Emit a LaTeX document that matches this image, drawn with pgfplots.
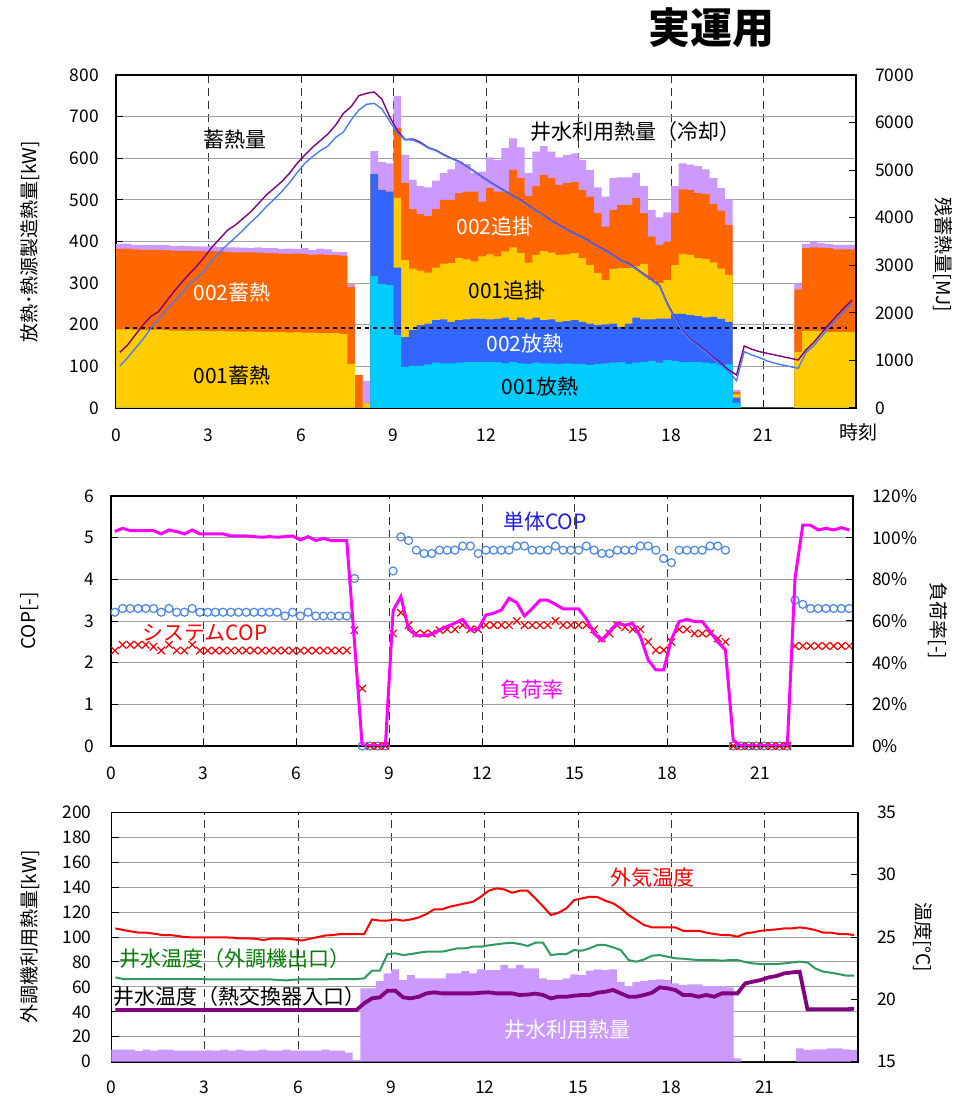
\documentclass[border=0pt]{standalone}
\usepackage{fontspec}
\setmainfont{Noto Sans CJK JP}
\usepackage{pgfplots}
\usepackage{pgfplotstable}
\pgfplotsset{compat=1.18}
\definecolor{cya}{HTML}{00CCFF}
\definecolor{blu}{HTML}{3366FF}
\definecolor{yel}{HTML}{FFCC00}
\definecolor{ora}{HTML}{FF6600}
\definecolor{lav}{HTML}{CC99FF}
\definecolor{pur}{HTML}{800080}
\definecolor{bline}{HTML}{4C7CF4}
\definecolor{mag}{HTML}{FF00FF}
\definecolor{circ}{HTML}{4A86E8}
\definecolor{grn}{HTML}{2E9960}
\definecolor{txtgrn}{HTML}{008000}
\definecolor{txtblu}{HTML}{1C1CE8}
\definecolor{gridgray}{HTML}{A0A0A0}

\pgfplotstableread{
x lav ora yel blu cya P B
0.125 394 382 189 0 0 1170 883
0.375 395 383 189 0 0 1324 1058
0.625 392 381 188 0 0 1535 1254
0.875 391 380 187 0 0 1745 1443
1.125 391 380 187 0 0 1920 1675
1.375 392 380 188 0 0 2025 1864
1.625 391 379 187 0 0 2235 2060
1.875 389 378 186 0 0 2445 2235
2.125 390 377 186 0 0 2635 2410
2.375 389 377 185 0 0 2817 2607
2.625 388 377 186 0 0 2985 2726
2.875 388 376 185 0 0 3181 2900
3.125 389 377 184 0 0 3391 3111
3.375 387 376 185 0 0 3567 3286
3.625 386 375 184 0 0 3742 3440
3.875 386 374 184 0 0 3847 3588
4.125 385 374 183 0 0 3987 3742
4.375 384 374 184 0 0 4127 3903
4.625 386 373 183 0 0 4302 4057
4.875 384 372 182 0 0 4477 4232
5.125 384 372 182 0 0 4617 4386
5.375 382 371 182 0 0 4758 4547
5.625 383 371 181 0 0 4933 4736
5.875 382 371 182 0 0 5143 4946
6.125 384 370 181 0 0 5318 5143
6.375 379 368 181 0 0 5480 5283
6.625 383 369 180 0 0 5620 5410
6.875 381 368 180 0 0 5760 5508
7.125 375 367 180 0 0 5949 5690
7.375 375 366 178 0 0 6194 5800
7.625 298 291 106 0 0 6334 6054
7.875 79 79 0 0 0 6566 6264
8.125 65 11 11 0 0 6615 6384
8.375 617 562 562 562 317 6643 6404
8.625 591 524 524 524 298 6489 6285
8.875 588 520 520 520 295 6124 6030
9.125 750 673 505 337 175 5830 5780
9.375 608 541 355 170 99 5645 5637
9.625 548 478 335 187 101 5655 5634
9.875 533 466 330 199 101 5585 5564
10.125 530 461 325 203 105 5475 5465
10.375 546 478 337 211 109 5420 5410
10.625 564 500 347 213 107 5330 5318
10.875 573 500 348 207 107 5250 5241
11.125 592 516 360 211 109 5185 5178
11.375 586 520 357 213 110 5080 5073
11.625 564 520 352 215 110 4975 4968
11.875 568 496 364 214 110 4858 4849
12.125 602 528 369 213 111 4752 4744
12.375 596 520 364 214 110 4655 4646
12.625 625 520 376 217 107 4558 4547
12.875 648 572 386 211 110 4460 4449
13.125 626 552 372 217 107 4370 4358
13.375 564 509 349 213 106 4258 4246
13.625 616 533 368 217 109 4152 4141
13.875 629 560 377 211 107 4046 4036
14.125 616 552 373 213 107 3935 3924
14.375 602 536 368 207 106 3845 3833
14.625 608 540 369 209 107 3752 3742
14.875 612 543 372 211 106 3662 3651
15.125 596 524 360 207 106 3592 3581
15.375 572 508 344 203 103 3494 3482
15.625 530 468 324 199 106 3396 3384
15.875 508 436 307 201 107 3312 3300
16.125 552 476 334 203 109 3214 3202
16.375 554 488 336 195 110 3102 3090
16.625 554 488 336 203 106 3040 3025
16.875 565 504 340 217 109 2930 2915
17.125 533 468 346 213 111 2810 2795
17.375 476 412 307 213 113 2700 2685
17.625 458 392 300 215 109 2580 2565
17.875 470 400 307 215 115 2210 2190
18.125 533 468 343 226 113 1900 1880
18.375 588 525 370 226 110 1620 1600
18.625 585 524 368 223 111 1445 1425
18.875 581 516 360 221 110 1325 1300
19.125 573 514 358 218 109 1200 1175
19.375 552 490 350 219 107 1060 1030
19.625 529 474 335 214 103 935 900
19.875 501 440 320 207 105 800 760
20.125 43 39 33 25 13 694 575
20.375 0 0 0 0 0 1303 1184
20.625 0 0 0 0 0 1233 1114
20.875 0 0 0 0 0 1184 1058
21.125 0 0 0 0 0 1149 988
21.375 0 0 0 0 0 1114 939
21.625 0 0 0 0 0 1079 904
21.875 0 0 0 0 0 1044 869
22.125 298 285 135 0 0 1009 834
22.375 394 384 185 0 0 1219 1163
22.625 400 386 185 0 0 1373 1303
22.875 396 385 185 0 0 1570 1500
23.125 394 384 183 0 0 1760 1690
23.375 392 381 183 0 0 1940 1870
23.625 392 381 183 0 0 2110 2040
23.875 392 381 183 0 0 2270 2200
}\toptab

\pgfplotstableread{
x U S L
0.125 3.21 2.29 103.0
0.375 3.30 2.43 104.5
0.625 3.30 2.43 103.4
0.875 3.30 2.43 103.4
1.125 3.30 2.43 103.4
1.375 3.30 2.38 103.4
1.625 3.21 2.29 101.8
1.875 3.30 2.43 103.7
2.125 3.21 2.29 102.9
2.375 3.21 2.29 101.8
2.625 3.30 2.43 103.7
2.875 3.21 2.29 101.8
3.125 3.21 2.29 101.8
3.375 3.21 2.29 101.8
3.625 3.21 2.29 101.8
3.875 3.21 2.29 100.8
4.125 3.21 2.29 100.8
4.375 3.21 2.29 100.8
4.625 3.21 2.29 100.5
4.875 3.21 2.29 100.2
5.125 3.21 2.29 100.5
5.375 3.21 2.29 100.2
5.625 3.12 2.29 100.5
5.875 3.21 2.29 100.8
6.125 3.12 2.29 98.9
6.375 3.21 2.29 100.5
6.625 3.12 2.29 98.6
6.875 3.12 2.29 99.7
7.125 3.12 2.29 98.6
7.375 3.12 2.29 98.6
7.625 3.12 2.29 98.6
7.875 4.02 2.78 50
8.125 0 1.38 0
8.375 0 0 0
8.625 0 0 0
8.875 0 0 0
9.125 4.20 2.70 65
9.375 5.02 3.20 71.7
9.625 4.93 2.90 56
9.875 4.70 2.70 53
10.125 4.62 2.70 53
10.375 4.62 2.70 53.6
10.625 4.70 2.78 55.7
10.875 4.70 2.80 57.4
11.125 4.70 2.80 59
11.375 4.80 2.90 60.8
11.625 4.80 2.80 55.7
11.875 4.62 2.80 56
12.125 4.70 2.90 62.9
12.375 4.70 2.90 63.7
12.625 4.70 2.90 65.3
12.875 4.70 2.90 70.9
13.125 4.80 3.00 68.8
13.375 4.80 2.90 62.4
13.625 4.70 2.90 66
13.875 4.70 2.90 70
14.125 4.70 2.90 70
14.375 4.80 3.00 68
14.625 4.70 2.90 65.8
14.875 4.70 2.90 65.8
15.125 4.70 2.90 65.8
15.375 4.80 2.90 61
15.625 4.70 2.80 54
15.875 4.62 2.58 50.6
16.125 4.62 2.70 55
16.375 4.70 2.90 58.9
16.625 4.70 2.85 58
16.875 4.70 2.80 58.9
17.125 4.80 2.80 52.5
17.375 4.80 2.50 41.3
17.625 4.70 2.30 36.5
17.875 4.50 2.30 36.5
18.125 4.40 2.50 51
18.375 4.70 2.80 59.7
18.625 4.70 2.80 60.8
18.875 4.70 2.70 59.7
19.125 4.70 2.70 59.7
19.375 4.80 2.70 55
19.625 4.80 2.58 50
19.875 4.70 2.50 46
20.125 0 0 2.9
20.375 0 0 0
20.625 0 0 0
20.875 0 0 0
21.125 0 0 0
21.375 0 0 0
21.625 0 0 0
21.875 0 0 0
22.125 3.50 2.40 80.5
22.375 3.40 2.40 106
22.625 3.30 2.40 106
22.875 3.30 2.40 103.7
23.125 3.30 2.40 104.5
23.375 3.30 2.40 103.7
23.625 3.30 2.40 104.8
23.875 3.30 2.40 103.7
}\midtab

\pgfplotstableread{
x W R G T
0.125 9.6 25.69 21.76 19.14
0.375 9.6 25.56 21.63 19.14
0.625 9.6 25.45 21.63 19.14
0.875 8.5 25.35 21.63 19.14
1.125 9.6 25.35 21.63 19.14
1.375 8.8 25.26 21.63 19.14
1.625 9.6 25.16 21.63 19.14
1.875 9.6 25.16 21.63 19.14
2.125 8.8 25.08 21.63 19.14
2.375 8.8 24.99 21.63 19.14
2.625 8.8 24.97 21.63 19.14
2.875 8.8 24.97 21.63 19.14
3.125 9.1 24.97 21.60 19.14
3.375 8.8 24.97 21.60 19.14
3.625 9.6 24.97 21.60 19.14
3.875 8.8 24.95 21.60 19.14
4.125 9.6 24.89 21.60 19.14
4.375 8.8 24.89 21.60 19.14
4.625 8.8 24.86 21.60 19.14
4.875 9.6 24.76 21.60 19.14
5.125 8.8 24.86 21.60 19.14
5.375 8.8 24.86 21.55 19.14
5.625 9.6 24.86 21.52 19.14
5.875 8.8 24.80 21.58 19.14
6.125 8.8 24.72 21.60 19.14
6.375 8.8 24.86 21.60 19.14
6.625 8.8 24.99 21.60 19.14
6.875 9.6 25.12 21.60 19.14
7.125 8.8 25.16 21.63 19.14
7.375 8.8 25.24 21.63 19.14
7.625 7.2 25.24 21.63 19.14
7.875 1.3 25.24 21.63 19.14
8.125 58.8 25.24 21.68 19.68
8.375 58.8 26.41 22.30 20.08
8.625 64.7 26.31 22.30 20.16
8.875 70.8 26.31 23.63 20.69
9.125 74 26.41 23.69 20.69
9.375 65.5 26.31 23.55 20.16
9.625 69.5 26.41 23.63 20.08
9.875 66.8 26.57 23.74 20.21
10.125 66.8 26.84 23.82 20.48
10.375 66.8 27.22 23.82 20.56
10.625 66.8 27.22 23.82 20.48
10.875 70.8 27.43 23.95 20.48
11.125 70.8 27.56 24.09 20.48
11.375 72.7 27.70 24.09 20.48
11.625 70.8 27.83 24.22 20.48
11.875 74 28.23 24.22 20.53
12.125 73.5 28.71 24.33 20.56
12.375 73.5 28.90 24.41 20.48
12.625 77.5 28.82 24.49 20.48
12.875 74.8 28.55 24.54 20.48
13.125 77.5 28.71 24.44 20.35
13.375 74.8 28.71 24.28 20.38
13.625 74.8 28.10 24.54 20.46
13.875 66.8 27.45 24.54 20.35
14.125 65.5 26.76 23.55 20.08
14.375 65.5 26.95 23.63 20.21
14.625 66.8 27.30 23.63 20.21
14.875 70 27.96 23.95 20.29
15.125 69.5 28.10 23.90 20.35
15.375 73 28.23 24.09 20.35
15.625 74 28.20 24.36 20.53
15.875 73.5 27.91 24.36 20.61
16.125 74 27.70 24.17 20.75
16.375 64 27.30 23.95 20.48
16.625 60.7 26.76 23.15 20.21
16.875 64 26.36 23.02 20.21
17.125 64.7 25.96 23.20 20.35
17.375 65.5 25.77 23.50 20.53
17.625 66 25.77 23.55 20.96
17.875 65.5 25.77 23.42 20.88
18.125 62.8 25.77 23.29 20.75
18.375 61.5 25.50 23.26 20.35
18.625 62 25.50 23.20 20.35
18.875 62 25.50 23.15 20.21
19.125 60.7 25.35 23.15 20.35
19.375 60.7 25.24 23.15 20.21
19.625 60.7 25.16 23.10 20.48
19.875 59.6 25.16 23.15 20.48
20.125 2.7 25.02 23.15 20.48
20.375 0 25.29 22.99 21.28
20.625 0 25.37 22.88 21.42
20.875 0 25.50 22.83 21.55
21.125 0 25.56 22.83 21.76
21.375 0 25.61 22.83 21.87
21.625 0 25.69 22.88 22.08
21.875 0 25.69 22.96 22.16
22.125 10.7 25.77 23.02 22.22
22.375 9.4 25.69 22.96 19.20
22.625 9.9 25.56 22.48 19.20
22.875 9.9 25.35 22.22 19.20
23.125 10.7 25.35 22.14 19.20
23.375 10.7 25.24 22.03 19.20
23.625 9.9 25.24 21.90 19.20
23.875 9.4 25.16 21.90 19.25
}\bottab

\pgfplotsset{
  base/.style={
    scale only axis, anchor=south west, xmin=0, xmax=24,
    /pgf/number format/assume math mode=true,
    /pgf/number format/1000 sep={},
    scaled y ticks=false, scaled x ticks=false,
    tick label style={font=\fontsize{8.7}{9}\selectfont},
    axis line style={line width=0.8pt},
    major tick length=3.5pt, tick align=inside,
    tick style={black, line width=0.5pt},
  },
  prim/.style={
    base, xtick={0,3,...,21}, xtick pos=bottom, ytick pos=left,
    xmajorgrids, ymajorgrids,
    x grid style={black!80, dash pattern=on 4pt off 2.5pt, line width=0.5pt},
    y grid style={gridgray, line width=0.5pt},
    yticklabel style={xshift=-5pt},
  },
  sec/.style={
    base, hide x axis, axis y line*=right, ytick pos=right,
    yticklabel style={xshift=6pt},
  },
}

\newcommand{\ann}{\fontsize{10.5}{11}\selectfont}
\newcommand{\lab}{\fontsize{9.5}{10}\selectfont}

\begin{document}
\begin{tikzpicture}
\path[use as bounding box] (0,0) rectangle (484.5pt,549.5pt);

% ---------- top chart ----------
\begin{axis}[prim, at={(58pt,345.5pt)}, width=370pt, height=166.5pt,
  ymin=0, ymax=800, ytick={0,100,...,800},
  xticklabel style={yshift=-7pt}]
\addplot[ybar, bar width=0.25, bar shift=0pt, fill=lav, draw=none] table[x=x,y=lav]{\toptab};
\addplot[ybar, bar width=0.25, bar shift=0pt, fill=ora, draw=none] table[x=x,y=ora]{\toptab};
\addplot[ybar, bar width=0.25, bar shift=0pt, fill=yel, draw=none] table[x=x,y=yel]{\toptab};
\addplot[ybar, bar width=0.25, bar shift=0pt, fill=blu, draw=none] table[x=x,y=blu]{\toptab};
\addplot[ybar, bar width=0.25, bar shift=0pt, fill=cya, draw=none] table[x=x,y=cya]{\toptab};
\addplot[black, line width=1pt, dash pattern=on 2pt off 2pt] coordinates {(0.3,192) (23.7,192)};
\end{axis}
\begin{axis}[sec, at={(58pt,345.5pt)}, width=370pt, height=166.5pt,
  ymin=0, ymax=7000, ytick={0,1000,...,7000}]
\addplot[pur, line width=0.7pt] table[x=x,y=P]{\toptab};
\addplot[bline, line width=0.7pt] table[x=x,y=B]{\toptab};
\end{axis}

% ---------- middle chart ----------
\begin{axis}[prim, at={(55.5pt,176.5pt)}, width=371pt, height=125pt,
  ymin=0, ymax=6, ytick={0,1,...,6}, clip=false,
  xticklabel style={yshift=-7pt}]
\addplot[only marks, mark=o, mark size=2pt, circ, mark options={line width=0.6pt}] table[x=x,y=U]{\midtab};
\addplot[only marks, mark=x, mark size=2.6pt, red, mark options={line width=0.6pt}] table[x=x,y=S]{\midtab};
\end{axis}
\begin{axis}[sec, at={(55.5pt,176.5pt)}, width=371pt, height=125pt,
  ymin=0, ymax=120, ytick={0,20,...,120},
  yticklabel={\pgfmathprintnumber{\tick}\%}]
\addplot[mag, line width=1.5pt] table[x=x,y=L]{\midtab};
\end{axis}

% ---------- bottom chart ----------
\begin{axis}[prim, at={(55.75pt,18.65pt)}, width=373.25pt, height=124.7pt,
  ymin=0, ymax=200, ytick={0,20,...,200},
  xticklabel style={yshift=-6pt}, yticklabel style={xshift=-1.5pt}]
\addplot[ybar, bar width=0.25, bar shift=0pt, fill=lav, draw=none] table[x=x,y=W]{\bottab};
\end{axis}
\begin{axis}[sec, at={(55.75pt,18.65pt)}, width=373.25pt, height=124.7pt,
  ymin=15, ymax=35, ytick={15,20,...,35}]
\addplot[red, line width=1pt] table[x=x,y=R]{\bottab};
\addplot[grn, line width=1pt] table[x=x,y=G]{\bottab};
\addplot[pur, line width=1.9pt] table[x=x,y=T]{\bottab};
\end{axis}

% ---------- texts ----------
\node[font=\fontsize{21}{21}\selectfont\bfseries] at (355.5pt,535.5pt) {実運用};
\node[font=\ann] at (117.5pt,479.5pt) {蓄熱量};
\node[font=\ann] at (317.5pt,483.5pt) {井水利用熱量（冷却）};
\node[font=\ann, white] at (247.5pt,436pt) {002追掛};
\node[font=\ann, white] at (116pt,403pt) {002蓄熱};
\node[font=\ann] at (253.5pt,404pt) {001追掛};
\node[font=\ann, white] at (262.5pt,377.5pt) {002放熱};
\node[font=\ann] at (116pt,361.5pt) {001蓄熱};
\node[font=\ann] at (270pt,356pt) {001放熱};
\node[font=\fontsize{9.5}{10}\selectfont] at (429pt,333.5pt) {時刻};
\node[font=\lab, rotate=90] at (15pt,428.5pt) {放熱･熱源製造熱量[kW]};
\node[font=\lab, rotate=-90] at (471.5pt,422pt) {残蓄熱量[MJ]};

\node[font=\ann, txtblu] at (272.5pt,288.5pt) {単体COP};
\node[font=\ann, red] at (102.5pt,233pt) {システムCOP};
\node[font=\ann, mag] at (266pt,204.5pt) {負荷率};
\node[font=\lab, rotate=90] at (15pt,239pt) {COP[-]};
\node[font=\lab, rotate=-90] at (469pt,239pt) {負荷率[-]};

\node[font=\ann, red] at (326pt,110.5pt) {外気温度};
\node[font=\ann, txtgrn] at (117.5pt,70pt) {井水温度（外調機出口）};
\node[font=\ann] at (119.5pt,51pt) {井水温度（熱交換器入口）};
\node[font=\ann, white] at (283.5pt,34.5pt) {井水利用熱量};
\node[font=\lab, rotate=90] at (15pt,81pt) {外調機利用熱量[kW]};
\node[font=\lab, rotate=-90] at (461.5pt,81pt) {温度[°C]};
\end{tikzpicture}
\end{document}
